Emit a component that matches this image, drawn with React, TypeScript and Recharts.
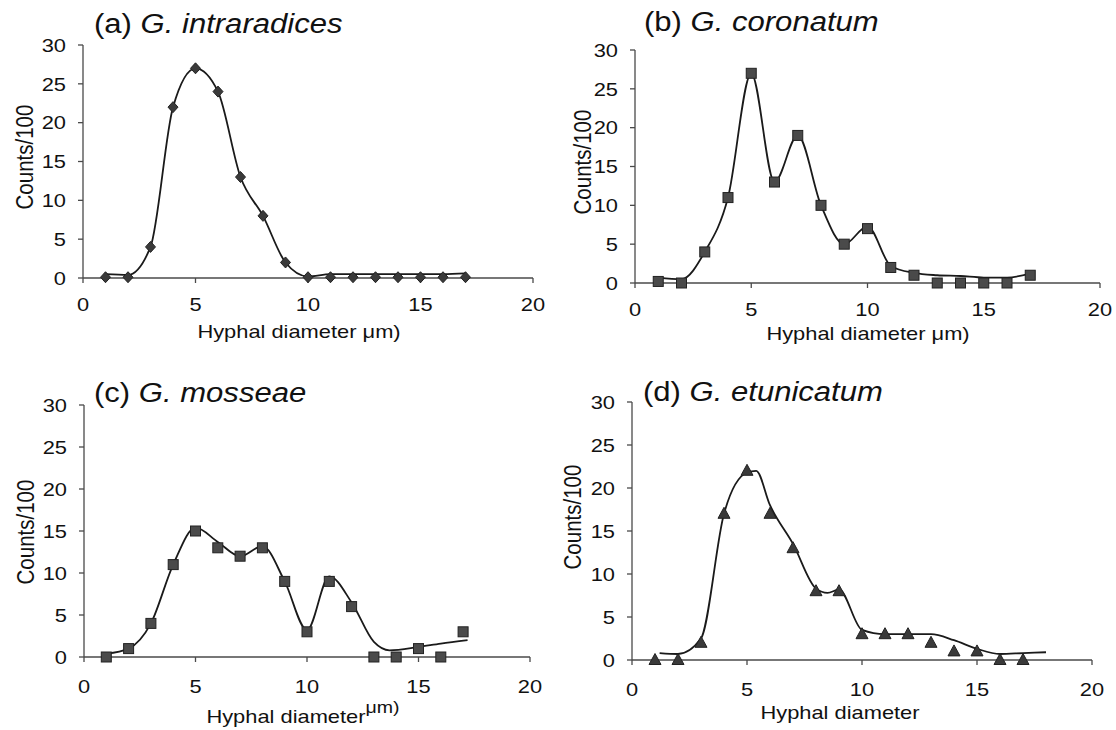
import React from 'react';
import { ComposedChart, Line, Scatter, XAxis, YAxis } from 'recharts';

// ---------- data ----------
const diameterBins = [1, 2, 3, 4, 5, 6, 7, 8, 9, 10, 11, 12, 13, 14, 15, 16, 17];
const xTicks = [0, 5, 10, 15, 20];
const yTicks = [0, 5, 10, 15, 20, 25, 30];

// (a) G. intraradices
const intraradicesCounts = [0.1, 0.1, 4, 22, 27, 24, 13, 8, 2, 0.1, 0.1, 0.1, 0.1, 0.1, 0.1, 0.1, 0.1];
const intraradicesFitX = [1, 2, 3, 4, 5, 6, 7, 8, 9, 10, 11, 12, 13, 14, 15, 16, 17];
const intraradicesFitY = [0.5, 0.4, 4, 22, 27, 24, 13, 8, 2, 0.2, 0.5, 0.5, 0.5, 0.5, 0.5, 0.5, 0.6];

// (b) G. coronatum
const coronatumCounts = [0.2, 0, 4, 11, 27, 13, 19, 10, 5, 7, 2, 1, 0, 0, 0, 0, 1];
const coronatumFitX = [1, 2, 3, 4, 5, 6, 7, 8, 9, 10, 11, 12, 13, 14, 15, 16, 17];
const coronatumFitY = [0.7, 0.5, 4, 11, 27, 13, 19, 10, 5, 7.3, 2.2, 1.3, 1, 0.9, 0.7, 0.7, 1.2];

// (c) G. mosseae
const mosseaeCounts = [0, 1, 4, 11, 15, 13, 12, 13, 9, 3, 9, 6, 0, 0, 1, 0, 3];
const mosseaeFitX = [1, 2, 3, 4, 5, 6, 7, 8, 9, 10, 11, 12, 13, 13.7, 15, 16, 17.2];
const mosseaeFitY = [0.4, 1, 4, 11, 15.4, 13.7, 12, 13.2, 9, 3.2, 9.6, 6.5, 1.8, 0.8, 1.2, 1.6, 2];

// (d) G. etunicatum
const etunicatumCounts = [0, 0, 2, 17, 22, 17, 13, 8, 8, 3, 3, 3, 2, 1, 1, 0, 0];
const etunicatumFitX = [1.2, 2, 3, 4, 5, 5.4, 6, 7, 8, 8.5, 9, 10, 11, 12, 13, 14, 15, 16, 17, 18];
const etunicatumFitY = [0.8, 0.7, 2.5, 17, 21.8, 22, 18, 13.5, 8.3, 7.8, 8.2, 3.5, 3, 3, 3, 2.3, 1.3, 0.7, 0.8, 0.9];

// ---------- styles ----------
const FONT = '"Liberation Sans", Arial, Helvetica, sans-serif';
const TEXT = '#111';
const AXIS = '#4a4a4a';
const STRETCH = 1.15;

const toPoints = (xs: number[], ys: number[]) => xs.map((x, i) => ({ x, y: ys[i] }));

const Diamond = (p: any) => {
  const { cx, cy } = p;
  return <polygon points={`${cx},${cy - 5.5} ${cx + 5},${cy} ${cx},${cy + 5.5} ${cx - 5},${cy}`} fill="#3a3a3a" stroke="#222" strokeWidth={1} />;
};
const Square = (p: any) => {
  const { cx, cy } = p;
  return <rect x={cx - 5} y={cy - 5} width={10} height={10} fill="#4a4a4a" stroke="#222" strokeWidth={1} />;
};
const Triangle = (p: any) => {
  const { cx, cy } = p;
  return <polygon points={`${cx},${cy - 6.5} ${cx + 6},${cy + 4.5} ${cx - 6},${cy + 4.5}`} fill="#3a3a3a" stroke="#222" strokeWidth={1} />;
};

const XTick = (p: any) => {
  const { x, y, payload } = p;
  return (
    <text x={x} y={y} dy="0.71em" textAnchor="middle" fontSize={19} fill={TEXT} fontFamily={FONT}
      transform={`translate(${x} 0) scale(${STRETCH} 1) translate(${-x} 0)`}>{payload.value}</text>
  );
};
const YTick = (p: any) => {
  const { x, y, payload } = p;
  return (
    <text x={x} y={y} dy="0.355em" textAnchor="end" fontSize={19} fill={TEXT} fontFamily={FONT}
      transform={`translate(${x} 0) scale(${STRETCH} 1) translate(${-x} 0)`}>{payload.value}</text>
  );
};

type PanelDef = {
  box: { left: number; top: number; w: number; h: number };
  x0: number; x20: number; y30: number; y0: number; xTickMargin: number;
  points: { x: number; y: number }[];
  fit: { x: number; y: number }[];
  shape: any;
};

const panels: PanelDef[] = [
  { box: { left: 0, top: 0, w: 558, h: 345 }, x0: 83, x20: 533, y30: 45, y0: 278, xTickMargin: 15,
    points: toPoints(diameterBins, intraradicesCounts), fit: toPoints(intraradicesFitX, intraradicesFitY), shape: Diamond },
  { box: { left: 558, top: 0, w: 558, h: 345 }, x0: 635, x20: 1100, y30: 50, y0: 283, xTickMargin: 15,
    points: toPoints(diameterBins, coronatumCounts), fit: toPoints(coronatumFitX, coronatumFitY), shape: Square },
  { box: { left: 0, top: 365, w: 558, h: 365 }, x0: 84, x20: 530, y30: 405, y0: 657, xTickMargin: 18,
    points: toPoints(diameterBins, mosseaeCounts), fit: toPoints(mosseaeFitX, mosseaeFitY), shape: Square },
  { box: { left: 558, top: 365, w: 558, h: 365 }, x0: 632, x20: 1092, y30: 402, y0: 660, xTickMargin: 18,
    points: toPoints(diameterBins, etunicatumCounts), fit: toPoints(etunicatumFitX, etunicatumFitY), shape: Triangle },
];

const Panel = ({ d }: { d: PanelDef }) => {
  const { box } = d;
  const xAxisH = 40;
  const margin = { left: 0, top: d.y30 - box.top, right: box.left + box.w - d.x20, bottom: box.top + box.h - d.y0 - xAxisH };
  return (
    <div style={{ position: 'absolute', left: box.left, top: box.top, width: box.w, height: box.h }}>
      <ComposedChart width={box.w} height={box.h} margin={margin}>
        <XAxis type="number" dataKey="x" domain={[0, 20]} ticks={xTicks} interval={0} height={xAxisH}
          tickSize={5} tickMargin={d.xTickMargin} stroke={AXIS} strokeWidth={1.3} tick={(p: any) => <XTick {...p} />} />
        <YAxis type="number" dataKey="y" domain={[0, 30]} ticks={yTicks} interval={0} width={d.x0 - box.left}
          tickSize={5} tickMargin={12} stroke={AXIS} strokeWidth={1.3} tick={(p: any) => <YTick {...p} />} />
        <Line data={d.fit} dataKey="y" type="monotone" dot={false} stroke="#1a1a1a" strokeWidth={1.8} isAnimationActive={false} />
        <Scatter data={d.points} dataKey="y" shape={d.shape} isAnimationActive={false} />
      </ComposedChart>
    </div>
  );
};

const titleStyle = (left: number, top: number): React.CSSProperties => ({
  position: 'absolute', left, top, fontSize: 27, lineHeight: 1, fontFamily: FONT, color: TEXT,
  whiteSpace: 'nowrap', transform: `scaleX(${STRETCH})`, transformOrigin: 'left center',
});
const xLabelStyle = (cx: number, cy: number): React.CSSProperties => ({
  position: 'absolute', left: cx, top: cy - 0.49 * 19, fontSize: 19, lineHeight: 1, fontFamily: FONT, color: TEXT,
  whiteSpace: 'nowrap', transform: `translateX(-50%) scaleX(${STRETCH})`,
});
const yLabelStyle = (cx: number, cy: number): React.CSSProperties => ({
  position: 'absolute', left: cx, top: cy, fontSize: 20.5, lineHeight: 1, fontFamily: FONT, color: TEXT,
  whiteSpace: 'nowrap', transform: `translate(-50%, -50%) scaleX(${STRETCH}) rotate(-90deg)`,
});

export default function App() {
  return (
    <div style={{ position: 'absolute', left: 0, top: 0, width: 1116, height: 730, background: '#fff', overflow: 'hidden' }}>
      {panels.map((d, i) => <Panel key={i} d={d} />)}

      <div style={titleStyle(94, 11)}>(a) <i>G. intraradices</i></div>
      <div style={titleStyle(644, 9)}>(b) <i>G. coronatum</i></div>
      <div style={titleStyle(94, 380)}>(c) <i>G. mosseae</i></div>
      <div style={titleStyle(643, 379)}>(d) <i>G. etunicatum</i></div>

      <div style={yLabelStyle(25, 157)}>Counts/100</div>
      <div style={yLabelStyle(583, 162)}>Counts/100</div>
      <div style={yLabelStyle(26, 532)}>Counts/100</div>
      <div style={yLabelStyle(573, 517)}>Counts/100</div>

      <div style={xLabelStyle(299, 331)}>Hyphal diameter μm)</div>
      <div style={xLabelStyle(868, 333)}>Hyphal diameter μm)</div>
      <div style={xLabelStyle(303, 716)}>Hyphal diameter<span style={{ position: 'relative', top: -10, fontSize: 17 }}>μm)</span></div>
      <div style={xLabelStyle(840, 712)}>Hyphal diameter</div>
    </div>
  );
}
